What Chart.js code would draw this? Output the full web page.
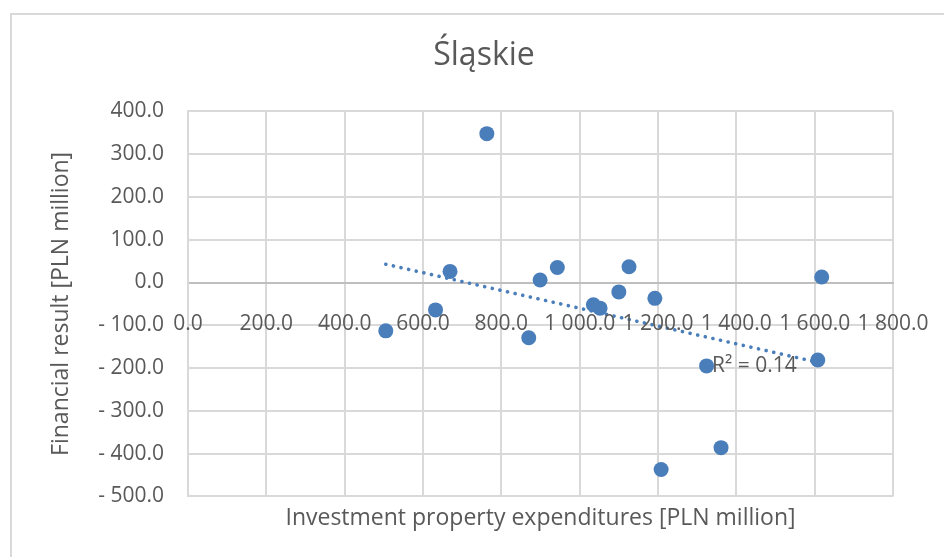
<!DOCTYPE html>
<html>
<head>
<meta charset="utf-8">
<script src="https://cdn.jsdelivr.net/npm/chart.js@4/dist/chart.umd.min.js"></script>
<style>
  html, body { margin: 0; padding: 0; overflow: hidden; background: #fff; }
  #frame { position: absolute; left: 10px; top: 13px; width: 1000px; height: 600px; border: 2px solid #d9d9d9; }
  #wrap { position: absolute; left: 0; top: 0; width: 968px; height: 557px; }
</style>
</head>
<body>
<div id="frame"></div>
<div id="wrap"><canvas id="scatterChart" width="968" height="557"></canvas></div>
<script>
// values
const expenditures = [505, 632, 669, 763, 870, 899, 943, 1035, 1052, 1100, 1126, 1192, 1208, 1324, 1361, 1608, 1618];
const financialResult = [-113, -64, 26, 348, -129, 6, 35, -52, -60, -22, 37, -37, -437, -195, -386, -181, 13];

const chartTitle = 'Śląskie';
const xTitle = 'Investment property expenditures [PLN million]';
const yTitle = 'Financial result [PLN million]';
const xRange = [0, 1800, 200];
const yRange = [-500, 400, 100];
const r2LabelAt = [1446, -195];

const textColor = '#595959';
const pointColor = '#4a7ebb';
const gridColor = '#d9d9d9';
Chart.defaults.font.family = "'Open Sans', sans-serif";

// "- 1 000.0" style numbers
function fmt(v) {
    const parts = Math.abs(v).toFixed(1).split('.');
    const intPart = parts[0].replace(/\B(?=(\d{3})+(?!\d))/g, ' ');
    return (v < 0 ? '- ' : '') + intPart + '.' + parts[1];
}

// least squares trendline
const n = expenditures.length;
const mx = expenditures.reduce((a, b) => a + b, 0) / n;
const my = financialResult.reduce((a, b) => a + b, 0) / n;
let sxy = 0, sxx = 0, syy = 0;
for (let i = 0; i < n; i++) {
    sxy += (expenditures[i] - mx) * (financialResult[i] - my);
    sxx += (expenditures[i] - mx) ** 2;
    syy += (financialResult[i] - my) ** 2;
}
const slope = sxy / sxx;
const intercept = my - slope * mx;
const r2 = (sxy * sxy) / (sxx * syy);
const xMin = Math.min(...expenditures);
const xMax = Math.max(...expenditures);

const r2Label = {
    id: 'r2Label',
    afterDatasetsDraw(chart) {
        const ctx = chart.ctx;
        ctx.save();
        ctx.font = "21px 'Open Sans', sans-serif";
        ctx.fillStyle = textColor;
        ctx.textAlign = 'center';
        ctx.textBaseline = 'middle';
        ctx.fillText('R² = ' + r2.toFixed(2),
            chart.scales.x.getPixelForValue(r2LabelAt[0]),
            chart.scales.y.getPixelForValue(r2LabelAt[1]));
        ctx.restore();
    }
};

new Chart(document.getElementById('scatterChart').getContext('2d'), {
    type: 'scatter',
    data: {
        datasets: [
            {
                label: 'Śląskie',
                data: expenditures.map((x, i) => ({ x: x, y: financialResult[i] })),
                backgroundColor: pointColor,
                borderColor: pointColor,
                borderWidth: 0,
                pointRadius: 7.5,
                order: 0
            },
            {
                label: 'Trend',
                data: [
                    { x: xMin, y: intercept + slope * xMin },
                    { x: xMax, y: intercept + slope * xMax }
                ],
                showLine: true,
                pointRadius: 0,
                borderColor: pointColor,
                borderWidth: 3.6,
                borderCapStyle: 'round',
                borderDash: [0.1, 7.7],
                order: 1
            }
        ]
    },
    options: {
        responsive: false,
        animation: false,
        events: [],
        layout: { padding: 0 },
        plugins: {
            legend: { display: false },
            tooltip: { enabled: false },
            title: {
                display: true,
                text: chartTitle,
                color: textColor,
                font: { size: 32, weight: 'normal' },
                padding: { top: 37, bottom: 36 }
            },
            subtitle: {
                display: true,
                position: 'bottom',
                fullSize: false,
                text: xTitle,
                color: textColor,
                font: { size: 23, weight: 'normal' },
                padding: { top: 8, bottom: 25 }
            }
        },
        scales: {
            x: {
                type: 'linear',
                position: { y: 0 },
                min: xRange[0],
                max: xRange[1],
                ticks: {
                    stepSize: xRange[2],
                    padding: 29,
                    color: textColor,
                    font: { size: 21 },
                    maxRotation: 0,
                    autoSkip: false,
                    z: 1,
                    callback: v => fmt(v)
                },
                grid: { color: gridColor, lineWidth: 2, drawTicks: false },
                border: { color: '#bfbfbf', width: 2 }
            },
            y: {
                type: 'linear',
                position: 'left',
                min: yRange[0],
                max: yRange[1],
                ticks: {
                    stepSize: yRange[2],
                    padding: 24,
                    color: textColor,
                    font: { size: 21 },
                    callback: v => fmt(v)
                },
                grid: { color: gridColor, lineWidth: 2, drawTicks: false },
                border: { color: gridColor, width: 2 },
                title: {
                    display: true,
                    text: yTitle,
                    color: textColor,
                    font: { size: 23 },
                    padding: { top: 48, bottom: 0 }
                },
                afterFit: s => { s.width = 188; }
            },
            yRight: {
                type: 'linear',
                position: 'right',
                grid: { display: false },
                ticks: { display: false },
                border: { display: false },
                afterFit: s => { s.width = 75; }
            }
        }
    },
    plugins: [r2Label]
});
</script>
</body>
</html>
